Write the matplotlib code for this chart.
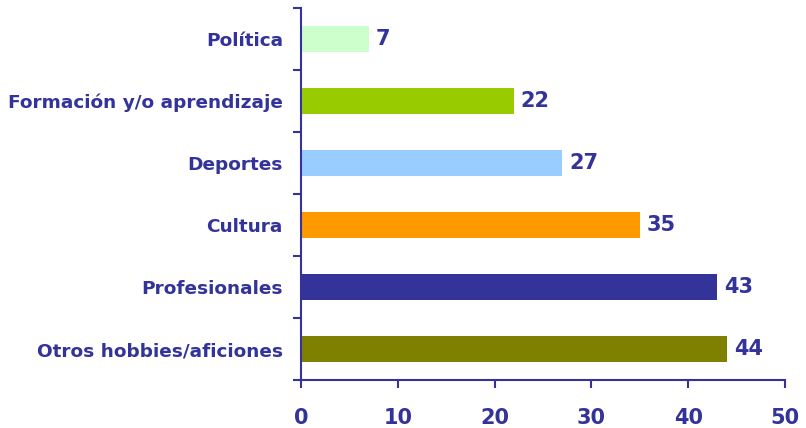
import matplotlib.pyplot as plt
import numpy as np

categorias = ['Política', 'Formación y/o aprendizaje', 'Deportes', 'Cultura',
              'Profesionales', 'Otros hobbies/aficiones']
valores = [7, 22, 27, 35, 43, 44]
colores = ['#CCFFCC', '#99CC00', '#99CCFF', '#FF9900', '#333399', '#808000']
azul = '#333399'

plt.rcParams['font.family'] = ['DejaVu Sans']

fig = plt.figure(figsize=(8.06, 4.28), dpi=100)
ax = fig.add_axes([0.3735, 0.112, 0.6005, 0.869])

y = np.arange(len(categorias))
ax.barh(y, valores, height=0.42, color=colores)

for yi, v in zip(y, valores):
    ax.text(v + 0.7, yi, str(v), va='center', ha='left', fontsize=15,
            fontweight='bold', color=azul)

ax.set_xlim(0, 50)
ax.set_ylim(len(categorias) - 0.5, -0.5)
ax.set_xticks(range(0, 51, 10))
ax.set_yticks(y)
ax.set_yticklabels(categorias)
ax.set_yticks(np.arange(-0.5, len(categorias)), minor=True)

for s in ['top', 'right']:
    ax.spines[s].set_visible(False)
for s in ['left', 'bottom']:
    ax.spines[s].set_color(azul)
    ax.spines[s].set_linewidth(1.5)

ax.tick_params(axis='y', which='major', length=0, pad=13, labelsize=13.3,
               labelcolor=azul)
ax.tick_params(axis='y', which='minor', length=6, width=1.5, color=azul)
ax.tick_params(axis='x', length=6, width=1.5, color=azul, pad=14,
               labelsize=15, labelcolor=azul)
for lab in ax.get_xticklabels() + ax.get_yticklabels():
    lab.set_fontweight('bold')

plt.savefig('out.png', dpi=100)
